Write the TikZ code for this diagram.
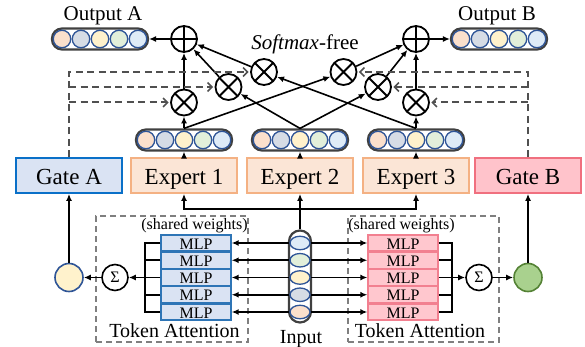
\documentclass[tikz,border=0pt]{standalone}
\usepackage{fontspec}
\setmainfont{Liberation Serif}
\usetikzlibrary{arrows.meta,shapes.geometric,calc}
\definecolor{cA}{HTML}{FBE0CC}
\definecolor{cB}{HTML}{D6DCE5}
\definecolor{cC}{HTML}{FFF2CC}
\definecolor{cD}{HTML}{E2EFDA}
\definecolor{cE}{HTML}{DEEBF7}
\definecolor{dotb}{HTML}{2F5597}
\definecolor{pillc}{HTML}{404040}
\definecolor{gAfill}{HTML}{DAE3F3}
\definecolor{gAline}{HTML}{0A70C8}
\definecolor{exfill}{HTML}{FBE5D6}
\definecolor{exline}{HTML}{F4B183}
\definecolor{gBfill}{HTML}{FFC3CB}
\definecolor{gBline}{HTML}{F0707F}
\definecolor{mlpBfill}{HTML}{FFC7CE}
\definecolor{mlpBline}{HTML}{F28090}
\definecolor{mlpAline}{HTML}{2E75B6}
\definecolor{dgray}{HTML}{505050}
\definecolor{bgray}{HTML}{7F7F7F}
\definecolor{yel}{HTML}{FFF2CC}
\definecolor{grn}{HTML}{A9D18E}
\definecolor{grnl}{HTML}{548235}
\newcommand\hvector[3]{%
  \node[pill, minimum width=96pt, minimum height=21pt] (#1) at (#2,#3) {};
  \foreach \i/\c in {1/cA,2/cB,3/cC,4/cD,5/cE}
    \node[dotc, fill=\c] (#1\i) at ({#2+(\i-3)*19},#3) {};
}
\begin{document}
\begin{tikzpicture}[x=1pt,y=-1pt,
  ln/.style={line width=1.6pt, draw=black},
  arr/.style={ln, -{Latex[length=7pt,width=6pt]}},
  dsh/.style={line width=2pt, draw=dgray, dash pattern=on 7pt off 4.5pt, shorten >=1.5pt,
     -{Straight Barb[length=4.5pt,width=9pt,line width=1.5pt]}},
  pill/.style={rectangle, rounded corners=10pt, draw=pillc, line width=2.2pt, fill=white, inner sep=0pt},
  dotc/.style={circle, draw=dotb, line width=1.3pt, minimum size=17.5pt, inner sep=0pt},
  edotc/.style={ellipse, draw=dotb, line width=1.3pt, minimum width=20pt, minimum height=13.5pt, inner sep=0pt},
  box/.style={rectangle, minimum width=106pt, minimum height=35pt, line width=1.8pt, inner sep=0pt,
     text height=19pt, text depth=0pt, font=\fontsize{23}{26}\selectfont},
  exbox/.style={box, fill=exfill, draw=exline},
  otimesnode/.style={circle, draw, line width=1.8pt, minimum size=26pt, inner sep=0pt,
     path picture={\draw[line width=1.8pt] (path picture bounding box.north west)--(path picture bounding box.south east)
       (path picture bounding box.north east)--(path picture bounding box.south west);}},
  oplusnode/.style={circle, draw, line width=1.8pt, minimum size=26pt, inner sep=0pt,
     path picture={\draw[line width=1.8pt] (path picture bounding box.north)--(path picture bounding box.south)
       (path picture bounding box.east)--(path picture bounding box.west);}},
  lbl/.style={font=\fontsize{21}{24}\selectfont, inner sep=0pt},
  small/.style={font=\fontsize{16}{18}\selectfont, inner sep=0pt},
  mlp/.style={rectangle, minimum width=70pt, minimum height=16pt, line width=1.3pt, inner sep=0pt,
     text height=12pt, text depth=0pt, font=\fontsize{16}{18}\selectfont},
  sig/.style={circle, draw, line width=1.6pt, minimum size=26pt, inner sep=0pt, font=\fontsize{16}{18}\selectfont},
  tbox/.style={rectangle, draw=bgray, line width=1.5pt, dash pattern=on 6pt off 4pt},
]
\useasboundingbox (0,0) rectangle (585,347);

% token attention boxes
\node[tbox, minimum width=152pt, minimum height=126pt] (taL) at (172,279) {};
\node[tbox, minimum width=151pt, minimum height=126pt] (taR) at (423.5,279) {};
\node[small] (swL) at (194.5,226) {(shared weights)};
\node[small] (swR) at (401.5,226) {(shared weights)};
\node[lbl, font=\fontsize{20}{24}\selectfont, anchor=base] (tkL) at (174.5,337.3) {Token Attention};
\node[lbl, font=\fontsize{20}{24}\selectfont, anchor=base] (tkR) at (420,337.3) {Token Attention};

% gates and experts
\node[box, fill=gAfill, draw=gAline] (gateA) at (69,175.5) {Gate A};
\node[exbox] (exp1) at (184,175.5) {Expert 1};
\node[exbox] (exp2) at (300,175.5) {Expert 2};
\node[exbox] (exp3) at (416,175.5) {Expert 3};
\node[box, fill=gBfill, draw=gBline] (gateB) at (528,175.5) {Gate B};

% vectors
\hvector{v1}{184}{140}
\hvector{v2}{300}{140}
\hvector{v3}{416}{140}
\hvector{outA}{100}{39}
\hvector{outB}{499}{39}

\node[lbl, anchor=base] (tOA) at (103,20.5) {Output A};
\node[lbl, anchor=base] (tOB) at (497,20.5) {Output B};
\node[lbl, anchor=base] (sf) at (305,50) {\textit{Softmax}-free};

% otimes and oplus
\node[otimesnode] (otA1) at (184,102.5) {};
\node[otimesnode] (otA2) at (228.5,87) {};
\node[otimesnode] (otA3) at (264,72) {};
\node[otimesnode] (otB1) at (416,102.5) {};
\node[otimesnode] (otB2) at (378,87) {};
\node[otimesnode] (otB3) at (343.5,72) {};
\node[oplusnode] (plA) at (184,39) {};
\node[oplusnode] (plB) at (416,39) {};

% connectors top
\foreach \e/\v in {exp1/v1,exp2/v2,exp3/v3}
  \draw[arr] (\e.north) -- (\v.south);
\draw[arr] (v1.north) -- (otA1);
\draw[arr] (v1.north) -- (otB3);
\draw[arr] (v2.north) -- (otA2);
\draw[arr] (v2.north) -- (otB2);
\draw[arr] (v3.north) -- (otA3);
\draw[arr] (v3.north) -- (otB1);
\draw[arr] (otA1) -- (plA);
\draw[arr] (otA2) -- (plA);
\draw[arr] (otA3) -- (plA);
\draw[arr] (otB1) -- (plB);
\draw[arr] (otB2) -- (plB);
\draw[arr] (otB3) -- (plB);
\draw[arr] (plA) -- (outA);
\draw[arr] (plB) -- (outB);

% dashed gate signals
\draw[dsh] (gateA.north) |- (otA3.west);
\draw[dsh] (gateA.north |- otA2.west) -- (otA2.west);
\draw[dsh] (gateA.north |- otA1.west) -- (otA1.west);
\draw[dsh] (gateB.north) |- (otB3.east);
\draw[dsh] (gateB.north |- otB2.east) -- (otB2.east);
\draw[dsh] (gateB.north |- otB1.east) -- (otB1.east);

% input
\node[pill, rounded corners=11pt, minimum width=22pt, minimum height=92pt] (inp) at (300,276.5) {};
\foreach \i/\c in {1/cE,2/cD,3/cC,4/cB,5/cA}
  \node[edotc, fill=\c] (in\i) at (300,{243+(\i-1)*17.25}) {};
\node[lbl, font=\fontsize{20}{24}\selectfont, anchor=base] (tin) at (301,343) {Input};

% MLPs
\foreach \i in {1,...,5}{
  \node[mlp, fill=gAfill, draw=mlpAline] (mlpL\i) at (196,{243+(\i-1)*17.25}) {MLP};
  \node[mlp, fill=mlpBfill, draw=mlpBline] (mlpR\i) at (403,{243+(\i-1)*17.25}) {MLP};
  \draw[arr] (in\i.west) -- (mlpL\i.east);
  \draw[arr] (in\i.east) -- (mlpR\i.west);
}
\coordinate (busL) at (145,277.5);
\coordinate (busR) at (452,277.5);
\foreach \i in {1,...,5}{
  \draw[ln] (mlpL\i.west) -| (busL);
  \draw[ln] (mlpR\i.east) -| (busR);
}
\node[sig] (sigL) at (115,277.5) {Σ};
\node[sig] (sigR) at (479,277.5) {Σ};
\node[circle, draw=dotb, fill=yel, line width=1.6pt, minimum size=28pt, inner sep=0pt] (yc) at (69,277.5) {};
\node[circle, draw=grnl, fill=grn, line width=1.6pt, minimum size=28pt, inner sep=0pt] (gc) at (528,277.5) {};
\draw[arr] (busL) -- (sigL);
\draw[arr] (busR) -- (sigR);
\draw[arr] (sigL) -- (yc);
\draw[arr] (sigR) -- (gc);
\draw[arr] (yc.north) -- (gateA.south);
\draw[arr] (gc.north) -- (gateB.south);

% input to experts
\coordinate (busT) at (300,209);
\draw[arr] (inp.north) -- (exp2.south);
\draw[arr] (busT) -| (exp1.south);
\draw[arr] (busT) -| (exp3.south);
\end{tikzpicture}
\end{document}
